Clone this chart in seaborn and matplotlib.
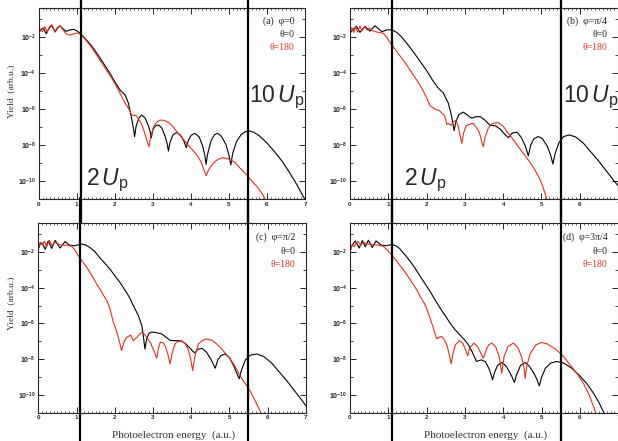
import numpy as np
import pandas as pd
import matplotlib
matplotlib.use('Agg')
import matplotlib.pyplot as plt
import matplotlib.transforms as mtransforms
import seaborn as sns
from matplotlib.ticker import FixedLocator, MultipleLocator, NullFormatter

# photoelectron spectra, x = energy (a.u.), lg = log10(yield)
a_black_x = [0.00, 0.06, 0.12, 0.20, 0.27, 0.34, 0.43, 0.50, 0.56, 0.63, 0.72, 0.82, 0.92, 1.02, 1.10,
             1.26, 1.40, 1.53, 1.66, 1.79, 1.90, 2.00, 2.14, 2.27, 2.36, 2.44, 2.49, 2.52, 2.56, 2.63,
             2.71, 2.80, 2.88, 2.93, 2.96, 3.00, 3.07, 3.15, 3.24, 3.33, 3.38, 3.41, 3.45, 3.53, 3.63,
             3.73, 3.82, 3.88, 3.93, 4.01, 4.11, 4.22, 4.31, 4.37, 4.40, 4.44, 4.53, 4.62, 4.70, 4.80,
             4.92, 5.00, 5.05, 5.10, 5.20, 5.32, 5.43, 5.52, 5.65, 5.80, 6.00, 6.20, 6.40, 6.60, 6.80,
             6.95, 7.05]
a_black_lg = [-1.75, -1.55, -1.48, -1.80, -1.50, -1.32, -1.70, -1.45, -1.36, -1.50, -1.66, -1.58, -1.55, -1.65, -1.80,
              -2.15, -2.50, -2.89, -3.30, -3.73, -4.10, -4.47, -4.93, -5.20, -5.67, -6.50, -7.05, -7.53, -6.95, -6.50,
              -6.32, -6.50, -6.90, -7.25, -7.59, -7.15, -6.92, -6.88, -7.05, -7.55, -7.95, -8.33, -7.85, -7.42, -7.29,
              -7.45, -7.80, -8.14, -7.75, -7.45, -7.34, -7.55, -8.05, -8.60, -9.07, -8.50, -7.75, -7.42, -7.34, -7.50,
              -7.95, -8.55, -9.10, -8.45, -7.80, -7.42, -7.25, -7.20, -7.28, -7.48, -7.88, -8.37, -8.90, -9.55, -10.25,
              -10.85, -11.20]

a_red_x = [0.00, 0.05, 0.10, 0.16, 0.22, 0.29, 0.35, 0.42, 0.49, 0.56, 0.63, 0.72, 0.82, 0.92, 1.02,
           1.10, 1.26, 1.40, 1.53, 1.66, 1.79, 1.90, 2.00, 2.10, 2.22, 2.30, 2.36, 2.44, 2.49, 2.54,
           2.58, 2.67, 2.74, 2.80, 2.86, 2.90, 2.94, 3.02, 3.10, 3.19, 3.30, 3.41, 3.52, 3.63, 3.76,
           3.89, 4.02, 4.16, 4.27, 4.33, 4.40, 4.46, 4.55, 4.65, 4.76, 4.86, 4.98, 5.08, 5.17, 5.30,
           5.47, 5.60, 5.74, 5.90, 5.98]
a_red_lg = [-1.78, -1.55, -1.68, -1.40, -1.70, -1.38, -1.30, -1.68, -1.45, -1.36, -1.55, -1.80, -1.87, -1.80, -1.75,
            -1.82, -2.20, -2.58, -3.00, -3.42, -3.85, -4.20, -4.56, -4.95, -5.45, -5.75, -5.95, -6.30, -6.36, -6.32,
            -6.40, -6.69, -7.00, -7.44, -7.85, -8.09, -7.55, -6.98, -6.72, -6.60, -6.62, -6.73, -6.95, -7.25, -7.57,
            -7.90, -8.22, -8.55, -8.95, -9.29, -9.70, -9.40, -9.11, -8.88, -8.75, -8.70, -8.76, -8.86, -8.98, -9.30,
            -9.66, -10.00, -10.31, -10.80, -11.10]

b_black_x = [0.00, 0.08, 0.17, 0.26, 0.39, 0.52, 0.65, 0.75, 0.83, 0.96, 1.09, 1.22, 1.35, 1.48, 1.61,
             1.74, 1.87, 2.00, 2.18, 2.31, 2.44, 2.57, 2.65, 2.72, 2.76, 2.84, 2.96, 3.08, 3.18, 3.28,
             3.40, 3.53, 3.66, 3.80, 3.93, 4.05, 4.14, 4.24, 4.36, 4.47, 4.58, 4.66, 4.72, 4.80, 4.92,
             5.03, 5.15, 5.24, 5.30, 5.36, 5.46, 5.58, 5.73, 5.90, 6.10, 6.30, 6.50, 6.70, 6.90, 7.00]
b_black_lg = [-1.76, -1.55, -1.38, -1.72, -1.38, -1.65, -1.35, -1.52, -1.68, -1.58, -1.57, -1.72, -1.98, -2.32, -2.68,
              -3.06, -3.45, -3.84, -4.46, -4.83, -5.10, -5.67, -6.35, -7.19, -6.75, -6.30, -6.16, -6.35, -6.50, -6.42,
              -6.41, -6.62, -6.90, -6.92, -7.12, -7.42, -7.58, -7.32, -7.28, -7.55, -8.05, -8.60, -8.00, -7.65, -7.52,
              -7.65, -8.05, -8.55, -9.05, -8.45, -7.85, -7.52, -7.43, -7.55, -7.90, -8.40, -8.90, -9.45, -10.00, -10.25]

b_red_x = [0.00, 0.05, 0.10, 0.15, 0.20, 0.26, 0.31, 0.38, 0.45, 0.50, 0.58, 0.66, 0.75, 0.85, 0.95,
           1.05, 1.22, 1.35, 1.48, 1.61, 1.74, 1.84, 1.92, 2.00, 2.09, 2.16, 2.26, 2.33, 2.40, 2.47,
           2.53, 2.58, 2.64, 2.70, 2.76, 2.82, 2.88, 2.92, 2.97, 3.03, 3.09, 3.15, 3.22, 3.31, 3.38,
           3.44, 3.48, 3.53, 3.61, 3.70, 3.80, 3.88, 4.00, 4.14, 4.27, 4.40, 4.53, 4.64, 4.75, 4.86,
           4.97, 5.05, 5.14, 5.18]
b_red_lg = [-1.76, -1.45, -1.72, -1.38, -1.70, -1.36, -1.65, -1.38, -1.60, -1.48, -1.62, -1.68, -1.72, -1.75, -1.95,
            -2.30, -2.78, -3.15, -3.53, -3.95, -4.36, -4.70, -5.01, -5.35, -5.80, -5.90, -6.04, -6.05, -6.22, -6.35,
            -6.85, -6.80, -6.90, -6.70, -6.62, -6.90, -7.50, -7.90, -7.30, -6.92, -6.87, -6.82, -6.78, -7.05, -7.30,
            -7.80, -8.08, -7.55, -7.06, -6.82, -6.76, -6.74, -6.95, -7.35, -7.71, -8.10, -8.46, -8.78, -9.10, -9.50,
            -9.94, -10.40, -11.00, -11.20]

c_black_x = [0.00, 0.05, 0.10, 0.18, 0.26, 0.35, 0.44, 0.57, 0.70, 0.82, 0.95, 1.13, 1.25, 1.35, 1.48,
             1.61, 1.75, 1.88, 2.01, 2.14, 2.31, 2.40, 2.49, 2.62, 2.71, 2.75, 2.79, 2.84, 2.90, 2.97,
             3.10, 3.23, 3.35, 3.45, 3.62, 3.75, 3.86, 3.97, 4.04, 4.10, 4.18, 4.28, 4.40, 4.53, 4.63,
             4.70, 4.78, 4.89, 5.00, 5.12, 5.20, 5.26, 5.32, 5.42, 5.55, 5.72, 5.90, 6.10, 6.30, 6.50,
             6.70, 6.90, 7.00]
c_black_lg = [-1.85, -1.55, -1.50, -1.85, -1.38, -1.80, -1.35, -1.78, -1.42, -1.62, -1.65, -1.55, -1.62, -1.75, -1.98,
              -2.32, -2.65, -2.97, -3.35, -3.71, -4.27, -4.60, -5.01, -5.57, -6.13, -6.70, -7.43, -6.85, -6.55, -6.48,
              -6.52, -6.59, -6.78, -6.95, -6.97, -6.98, -7.15, -7.38, -7.55, -7.65, -7.45, -7.39, -7.60, -8.05, -8.51,
              -8.05, -7.80, -7.71, -7.90, -8.40, -8.80, -9.10, -8.60, -8.05, -7.78, -7.71, -7.85, -8.20, -8.70, -9.20,
              -9.75, -10.30, -10.60]

c_red_x = [0.00, 0.05, 0.10, 0.16, 0.22, 0.29, 0.36, 0.43, 0.52, 0.62, 0.75, 0.87, 0.96, 1.05, 1.16,
           1.27, 1.40, 1.53, 1.62, 1.70, 1.80, 1.88, 1.96, 2.05, 2.12, 2.18, 2.24, 2.31, 2.37, 2.42,
           2.46, 2.49, 2.54, 2.58, 2.65, 2.71, 2.78, 2.84, 2.94, 3.04, 3.10, 3.15, 3.19, 3.27, 3.33,
           3.40, 3.45, 3.50, 3.56, 3.61, 3.75, 3.85, 3.92, 3.99, 4.04, 4.10, 4.19, 4.30, 4.41, 4.55,
           4.67, 4.85, 5.02, 5.15, 5.28, 5.41, 5.54, 5.67, 5.80, 5.85]
c_red_lg = [-1.75, -1.45, -1.60, -1.40, -1.70, -1.35, -1.65, -1.45, -1.55, -1.62, -1.62, -1.67, -1.90, -2.22, -2.55,
            -2.87, -3.30, -3.80, -4.10, -4.40, -4.75, -5.20, -5.90, -6.45, -7.00, -7.52, -7.05, -6.78, -6.72, -6.65,
            -6.85, -6.97, -6.85, -6.79, -6.60, -6.50, -6.60, -6.79, -7.10, -7.60, -7.95, -7.35, -7.06, -7.08, -7.30,
            -7.80, -8.27, -7.70, -7.25, -7.06, -6.97, -7.15, -7.43, -8.00, -8.64, -7.85, -7.15, -6.95, -6.87, -6.95,
            -7.15, -7.55, -7.99, -8.40, -8.92, -9.35, -9.76, -10.30, -10.87, -11.10]

d_black_x = [0.00, 0.06, 0.14, 0.24, 0.32, 0.40, 0.48, 0.58, 0.68, 0.80, 0.92, 1.09, 1.20, 1.30, 1.43,
             1.57, 1.70, 1.83, 1.96, 2.09, 2.22, 2.35, 2.48, 2.61, 2.74, 2.87, 2.98, 3.09, 3.20, 3.30,
             3.43, 3.53, 3.62, 3.68, 3.72, 3.77, 3.85, 3.96, 4.07, 4.17, 4.24, 4.29, 4.34, 4.45, 4.57,
             4.68, 4.80, 4.88, 4.94, 5.00, 5.10, 5.24, 5.39, 5.57, 5.78, 5.98, 6.17, 6.35, 6.50, 6.61,
             6.68]
d_black_lg = [-1.96, -1.60, -1.38, -1.78, -1.36, -1.70, -1.34, -1.75, -1.38, -1.60, -1.65, -1.59, -1.65, -1.82, -2.15,
              -2.52, -2.92, -3.36, -3.78, -4.21, -4.68, -5.14, -5.55, -5.98, -6.35, -6.64, -6.90, -7.20, -7.65, -8.13,
              -8.04, -8.15, -8.50, -8.85, -9.16, -8.75, -8.35, -8.19, -8.38, -8.75, -9.05, -9.31, -8.90, -8.35, -8.19,
              -8.40, -8.80, -9.15, -9.50, -9.00, -8.50, -8.22, -8.13, -8.22, -8.50, -8.90, -9.35, -9.90, -10.45, -10.94,
              -11.20]

d_red_x = [0.00, 0.06, 0.11, 0.15, 0.21, 0.28, 0.35, 0.44, 0.55, 0.65, 0.76, 0.87, 1.00, 1.10, 1.22,
           1.35, 1.48, 1.61, 1.74, 1.83, 1.96, 2.09, 2.18, 2.26, 2.32, 2.39, 2.46, 2.54, 2.60, 2.64,
           2.68, 2.75, 2.85, 2.94, 3.01, 3.07, 3.12, 3.23, 3.33, 3.42, 3.48, 3.55, 3.62, 3.70, 3.80,
           3.89, 3.96, 4.02, 4.12, 4.26, 4.38, 4.48, 4.54, 4.57, 4.61, 4.70, 4.85, 5.00, 5.15, 5.39,
           5.57, 5.74, 5.92, 6.09, 6.25, 6.40, 6.45]
d_red_lg = [-1.96, -1.60, -1.70, -1.50, -1.42, -1.62, -1.45, -1.55, -1.58, -1.60, -1.62, -1.68, -1.95, -2.20, -2.52,
            -2.88, -3.27, -3.68, -4.11, -4.50, -4.95, -5.70, -6.30, -6.85, -6.78, -6.73, -6.90, -7.30, -7.85, -8.26,
            -7.75, -7.20, -6.96, -7.10, -7.45, -7.81, -7.40, -7.10, -7.30, -7.70, -7.95, -7.50, -7.20, -7.10, -7.30,
            -7.85, -8.79, -7.85, -7.30, -7.10, -7.35, -7.90, -8.50, -9.07, -8.40, -7.70, -7.20, -7.07, -7.15, -7.48,
            -7.85, -8.32, -8.80, -9.35, -10.05, -10.94, -11.20]

panel_tags = ['(a)', '(b)', '(c)', '(d)']
phi_labels = ['\u03c6=0', '\u03c6=\u03c0/4', '\u03c6=\u03c0/2', '\u03c6=3\u03c0/4']
theta_labels = ['\u03b8=0', '\u03b8=180']
up_lines = [1.1, 5.5]
xticks = [0, 1, 2, 3, 4, 5, 6, 7]
yticks = [1e-2, 1e-4, 1e-6, 1e-8, 1e-10]
ytick_labels = [r'$\mathbf{10^{-2}}$', r'$\mathbf{10^{-4}}$', r'$\mathbf{10^{-6}}$',
                r'$\mathbf{10^{-8}}$', r'$\mathbf{10^{-10}}$']
yminor = [1e-1, 1e-3, 1e-5, 1e-7, 1e-9, 1e-11]

sns.set_style('ticks')
plt.rcParams['font.family'] = ['Liberation Sans', 'DejaVu Sans']
plt.rcParams['mathtext.fontset'] = 'custom'
plt.rcParams['mathtext.rm'] = 'Liberation Sans'
plt.rcParams['mathtext.it'] = 'Liberation Sans:italic'
plt.rcParams['mathtext.bf'] = 'Liberation Sans:bold'

serif = ['Liberation Serif', 'DejaVu Serif']
RED = '#e0321e'
W, H = 618, 441

fig = plt.figure(figsize=(6.18, 4.41), dpi=100)


def add_px_axes(left, top, right, bottom):
    return fig.add_axes([left / W, 1 - bottom / H, (right - left) / W, (bottom - top) / H])


boxes = [(38.7, 8, 305, 199), (350, 8, 618, 199), (38.3, 222.7, 305.7, 412.7), (350, 222.7, 618.3, 412.7)]
curves = [(a_black_x, a_black_lg, a_red_x, a_red_lg),
          (b_black_x, b_black_lg, b_red_x, b_red_lg),
          (c_black_x, c_black_lg, c_red_x, c_red_lg),
          (d_black_x, d_black_lg, d_red_x, d_red_lg)]

for i, (box, (bx, by, rx, ry)) in enumerate(zip(boxes, curves)):
    ax = add_px_axes(*box)
    ax.set_yscale('log')
    black = pd.DataFrame({'energy': bx, 'yield': 10 ** np.array(by)})
    red = pd.DataFrame({'energy': rx, 'yield': 10 ** np.array(ry)})
    sns.lineplot(data=black, x='energy', y='yield', ax=ax, color='black', linewidth=0.8)
    sns.lineplot(data=red, x='energy', y='yield', ax=ax, color=RED, linewidth=0.8)

    ax.set_xlim(0, 7)
    ax.set_ylim(1e-11, 10 ** -0.36)
    ax.set_xticks(xticks)
    ax.set_xticklabels([str(t) for t in xticks], fontweight='bold')
    ax.xaxis.set_minor_locator(MultipleLocator(0.1))
    ax.set_yticks(yticks)
    ax.set_yticklabels(ytick_labels)
    ax.yaxis.set_minor_locator(FixedLocator(yminor))
    ax.yaxis.set_minor_formatter(NullFormatter())
    ax.tick_params(which='both', direction='in', top=True, right=True)
    ax.tick_params(which='major', length=4, width=0.7, pad=2)
    ax.tick_params(axis='x', which='major', labelsize=4.5)
    ax.tick_params(axis='y', which='major', labelsize=5)
    ax.tick_params(axis='x', which='minor', length=1.5, width=0.5)
    ax.tick_params(axis='y', which='minor', length=2.5, width=0.6)
    for s in ax.spines.values():
        s.set_linewidth(0.8)

    ax.set_xlabel('')
    ax.set_ylabel('')
    top_row = i < 2
    if i % 2 == 0:
        ax.set_ylabel('Yield  (arb.u.)', fontsize=6.8, family=serif, color='#333333')
        ax.yaxis.set_label_coords(-0.087, 0.562 if top_row else 0.576)
    if not top_row:
        ax.set_xlabel('Photoelectron energy  (a.u.)', fontsize=8, family=serif, color='#333333')
        ax.xaxis.set_label_coords(0.505, -0.092)

    # legend-like labels
    ty = [0.929, 0.861, 0.791] if top_row else [0.923, 0.848, 0.78]
    ax.text(0.96, ty[0], panel_tags[i] + '  ' + phi_labels[i], transform=ax.transAxes,
            ha='right', va='center', fontsize=7, family=serif, color='#222222')
    ax.text(0.96, ty[1], theta_labels[0], transform=ax.transAxes,
            ha='right', va='center', fontsize=7, family=serif, color='#222222')
    ax.text(0.96, ty[2], theta_labels[1], transform=ax.transAxes,
            ha='right', va='center', fontsize=7, family=serif, color=RED)

    # 2Up / 10Up markers, drawn across the whole figure height
    if top_row:
        ymin, ymax = -0.15, 1.05
    else:
        ymin, ymax = -0.15, 1.13
    for xv in up_lines:
        ax.axvline(xv, ymin=ymin, ymax=ymax, color='black', linewidth=1.6, clip_on=False, zorder=5)

    if top_row:
        trans = mtransforms.blended_transform_factory(ax.transData, ax.transAxes)
        x2 = 1.25 if i == 0 else 1.41
        x10 = 5.53 if i == 0 else 5.56
        ax.text(x2, 0.073, r'$2\,U_{\mathrm{p}}$', transform=trans, fontsize=16.5,
                ha='left', va='baseline')
        ax.text(x10, 0.508, r'$10\,U_{\mathrm{p}}$', transform=trans, fontsize=16.5,
                ha='left', va='baseline')

fig.savefig('out.png', dpi=100)
